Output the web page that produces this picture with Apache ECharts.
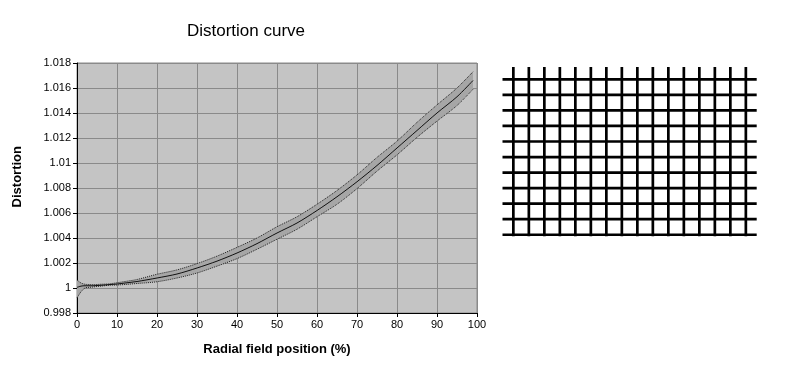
<!DOCTYPE html>
<html><head><meta charset="utf-8">
<script src="https://cdn.jsdelivr.net/npm/echarts@6/dist/echarts.min.js"></script>
<style>html,body{margin:0;padding:0;background:#fff}#c{width:785px;height:369px}</style>
</head><body><div id="c"></div>
<script>
// Radial field position (%)
const positions = [0,1,2,3,4,5,6,8,10,12,15,20,25,30,35,40,45,50,55,60,65,70,75,80,85,90,95,99];
// Centre curve
const distortion = [1.00005,1.00015,1.00018,1.00018,1.00018,1.0002,1.00022,1.00027,1.00032,1.0004,1.00052,1.0008,1.00112,1.0016,1.00215,1.0028,1.00355,1.0044,1.0052,1.0062,1.0073,1.0085,1.0098,1.0112,1.0126,1.014,1.0153,1.0166];
// Upper / lower dotted envelope
const upperEnv = [1.00065,1.0004,1.0003,1.00028,1.00027,1.00028,1.0003,1.00033,1.00042,1.00052,1.00068,1.0011,1.00145,1.00195,1.00255,1.00325,1.004,1.0049,1.0057,1.0067,1.0078,1.00905,1.01045,1.01175,1.01325,1.01465,1.016,1.0173];
const lowerEnv = [0.9992,0.9997,1.0,1.00005,1.00008,1.00012,1.00015,1.00022,1.00024,1.00028,1.00036,1.0005,1.0008,1.0012,1.00175,1.00235,1.0031,1.0039,1.0047,1.0057,1.0067,1.00795,1.00935,1.01065,1.01205,1.01335,1.0146,1.0159];
// Distorted test grid (line indices)
const gridCols = [0,1,2,3,4,5,6,7,8,9,10,11,12,13,14,15];
const gridRows = [0,1,2,3,4,5,6,7,8,9,10];
const colSpan = [-0.1, 10.8];
const rowSpan = [-0.7, 15.7];

const FONT = 'Liberation Sans, Arial, sans-serif';
const pair = (arr) => positions.map((x, i) => [x, arr[i]]);

const series = [
  { type: 'custom', xAxisIndex: 0, yAxisIndex: 0, silent: true, z: 2,
    data: positions.map((x, i) => [x, lowerEnv[i], upperEnv[i]]),
    encode: { x: 0, y: [1, 2] },
    renderItem: (params, api) => {
      if (params.dataIndex !== 0) return null;
      const top = positions.map((x, i) => api.coord([x, upperEnv[i]]));
      const bot = positions.map((x, i) => api.coord([x, lowerEnv[i]])).reverse();
      return { type: 'polygon', shape: { points: top.concat(bot), smooth: 0 },
        style: { fill: '#a6a6a6', stroke: null } };
    } },
  { type: 'line', xAxisIndex: 0, yAxisIndex: 0, data: pair(lowerEnv), symbol: 'none', smooth: 0.3,
    lineStyle: { color: '#222', width: 1, type: 'dotted' }, z: 3, silent: true },
  { type: 'line', xAxisIndex: 0, yAxisIndex: 0, data: pair(upperEnv), symbol: 'none', smooth: 0.3,
    lineStyle: { color: '#222', width: 1, type: 'dotted' }, z: 3, silent: true },
  { type: 'line', xAxisIndex: 0, yAxisIndex: 0, data: pair(distortion), symbol: 'none', smooth: 0.3,
    lineStyle: { color: '#111', width: 1 }, z: 4, silent: true }
];
gridCols.forEach(c => series.push({ type: 'line', xAxisIndex: 1, yAxisIndex: 1, symbol: 'none', silent: true,
  data: [[c, colSpan[0]], [c, colSpan[1]]], lineStyle: { color: '#000', width: 2.7 } }));
gridRows.forEach(r => series.push({ type: 'line', xAxisIndex: 1, yAxisIndex: 1, symbol: 'none', silent: true,
  data: [[rowSpan[0], r], [rowSpan[1], r]], lineStyle: { color: '#000', width: 2.7 } }));

const chart = echarts.init(document.getElementById('c'), null, { renderer: 'canvas' });
chart.setOption({
  animation: false,
  backgroundColor: '#fff',
  textStyle: { fontFamily: FONT },
  title: { text: 'Distortion curve', left: 241, top: 18, textAlign: 'center',
    textStyle: { fontFamily: FONT, fontSize: 17, fontWeight: 'normal', color: '#000' } },
  graphic: [{ type: 'text', left: 11, top: 146, rotation: Math.PI / 2,
    style: { text: 'Distortion', font: 'bold 13px ' + FONT, fill: '#000' } }],
  grid: [
    { left: 77, top: 63, width: 400, height: 250, show: true, backgroundColor: '#c4c4c4', borderColor: '#8a8a8a', borderWidth: 1 },
    { left: 502.5, top: 66.9, width: 254.2, height: 169.4 }
  ],
  xAxis: [
    { type: 'value', gridIndex: 0, min: 0, max: 100, interval: 10,
      name: 'Radial field position (%)', nameLocation: 'middle', nameGap: 30,
      nameTextStyle: { fontFamily: FONT, fontSize: 13, fontWeight: 'bold', color: '#000' },
      axisLine: { lineStyle: { color: '#000', width: 1 } },
      axisTick: { show: true, length: 4, lineStyle: { color: '#000' } },
      axisLabel: { fontFamily: FONT, fontSize: 11, color: '#000', margin: 6 },
      splitLine: { show: true, lineStyle: { color: '#8a8a8a', width: 1 } } },
    { type: 'value', gridIndex: 1, min: rowSpan[0], max: rowSpan[1], show: false, splitLine: { show: false } }
  ],
  yAxis: [
    { type: 'value', gridIndex: 0, min: 0.998, max: 1.018, interval: 0.002,
      axisLine: { show: true, lineStyle: { color: '#000', width: 1 } },
      axisTick: { show: true, length: 4, lineStyle: { color: '#000' } },
      axisLabel: { fontFamily: FONT, fontSize: 11, color: '#000', margin: 6,
        formatter: v => String(parseFloat(v.toFixed(3))) },
      splitLine: { show: true, lineStyle: { color: '#8a8a8a', width: 1 } } },
    { type: 'value', gridIndex: 1, min: colSpan[0], max: colSpan[1], show: false, splitLine: { show: false } }
  ],
  series
});
</script></body></html>
